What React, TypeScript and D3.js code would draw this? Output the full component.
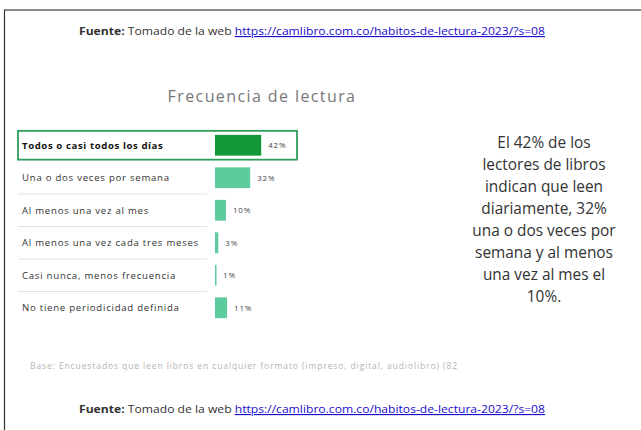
import React from "react";
import * as d3 from "d3";

const categories = [
  "Todos o casi todos los días",
  "Una o dos veces por semana",
  "Al menos una vez al mes",
  "Al menos una vez cada tres meses",
  "Casi nunca, menos frecuencia",
  "No tiene periodicidad definida",
];
const values = [42, 32, 10, 3, 1, 11];
const highlightIndex = 0;
const title = "Frecuencia de lectura";
const sideText = [
  "El 42% de los",
  "lectores de libros",
  "indican que leen",
  "diariamente, 32%",
  "una o dos veces por",
  "semana y al menos",
  "una vez al mes el",
  "10%.",
];
const baseNote =
  "Base: Encuestados que leen libros en cualquier formato (impreso, digital, audiolibro) (82";
const sourceLabel = "Fuente:";
const sourceText = " Tomado de la web ";
const sourceUrl = "https://camlibro.com.co/habitos-de-lectura-2023/?s=08";

const W = 641;
const H = 430;

export default function App() {
  const x = d3.scaleLinear().domain([0, 100]).range([215, 325]);
  const y = d3
    .scaleBand<string>()
    .domain(categories)
    .range([129, 324])
    .paddingInner(0.36)
    .paddingOuter(0.18);
  const step = y.step();
  const font = "'Open Sans', 'Noto Sans', sans-serif";

  const Source = ({ yy }: { yy: number }) => (
    <text
      x={79}
      y={yy}
      fontFamily={font}
      fontSize={11.4}
      fill="#333"
      textLength={466}
      lengthAdjust="spacingAndGlyphs"
    >
      <tspan fontWeight="bold">{sourceLabel}</tspan>
      <tspan>{sourceText}</tspan>
      <tspan fill="#1a0dcc" textDecoration="underline">
        {sourceUrl}
      </tspan>
    </text>
  );

  return (
    <svg
      width={W}
      height={H}
      style={{ position: "absolute", left: 0, top: 0, background: "#fff" }}
    >
      <line x1={4} x2={W} y1={10} y2={10} stroke="#8a8a8a" strokeWidth={2} />
      <line x1={4.5} x2={4.5} y1={10} y2={H} stroke="#333" strokeWidth={1.2} />
      <Source yy={35} />
      <text
        x={262}
        y={102}
        textAnchor="middle"
        fontFamily={font}
        fontSize={16}
        letterSpacing={1.4}
        fill="#777"
      >
        {title}
      </text>
      {categories.map((c, i) => {
        const yc = (y(c) as number) + y.bandwidth() / 2;
        const hl = i === highlightIndex;
        return (
          <g key={c}>
            {i < categories.length - 1 && i !== highlightIndex && (
              <line
                x1={18}
                x2={207}
                y1={yc + step / 2}
                y2={yc + step / 2}
                stroke="#e2e2e2"
                strokeWidth={1}
              />
            )}
            <text
              x={22}
              y={yc}
              dy="0.35em"
              fontFamily={font}
              fontSize={9.6}
              letterSpacing={hl ? 0.6 : 0.75}
              fontWeight={hl ? "bold" : "normal"}
              fill={hl ? "#111" : "#333"}
            >
              {c}
            </text>
            <rect
              x={x(0)}
              y={y(c)}
              width={Math.max(x(values[i]) - x(0), 1.5)}
              height={y.bandwidth()}
              fill={hl ? "#14993a" : "#5ecb9f"}
            />
            <text
              x={x(values[i]) + 7}
              y={yc}
              dy="0.35em"
              fontFamily={font}
              fontSize={8}
              letterSpacing={0.8}
              fill="#444"
            >
              {values[i]}%
            </text>
          </g>
        );
      })}
      <rect
        x={18}
        y={(y(categories[highlightIndex]) as number) - 4}
        width={279}
        height={y.bandwidth() + 8}
        fill="none"
        stroke="#2f9e5c"
        strokeWidth={1.8}
      />
      {sideText.map((t, i) => (
        <text
          key={i}
          x={544}
          y={148 + i * 22}
          textAnchor="middle"
          fontFamily={font}
          fontSize={15.4}
          fill="#333"
        >
          {t}
        </text>
      ))}
      <text
        x={30}
        y={369}
        fontFamily={font}
        fontSize={8.5}
        letterSpacing={0.9}
        fill="#b3b3b3"
      >
        {baseNote}
      </text>
      <Source yy={413} />
    </svg>
  );
}
